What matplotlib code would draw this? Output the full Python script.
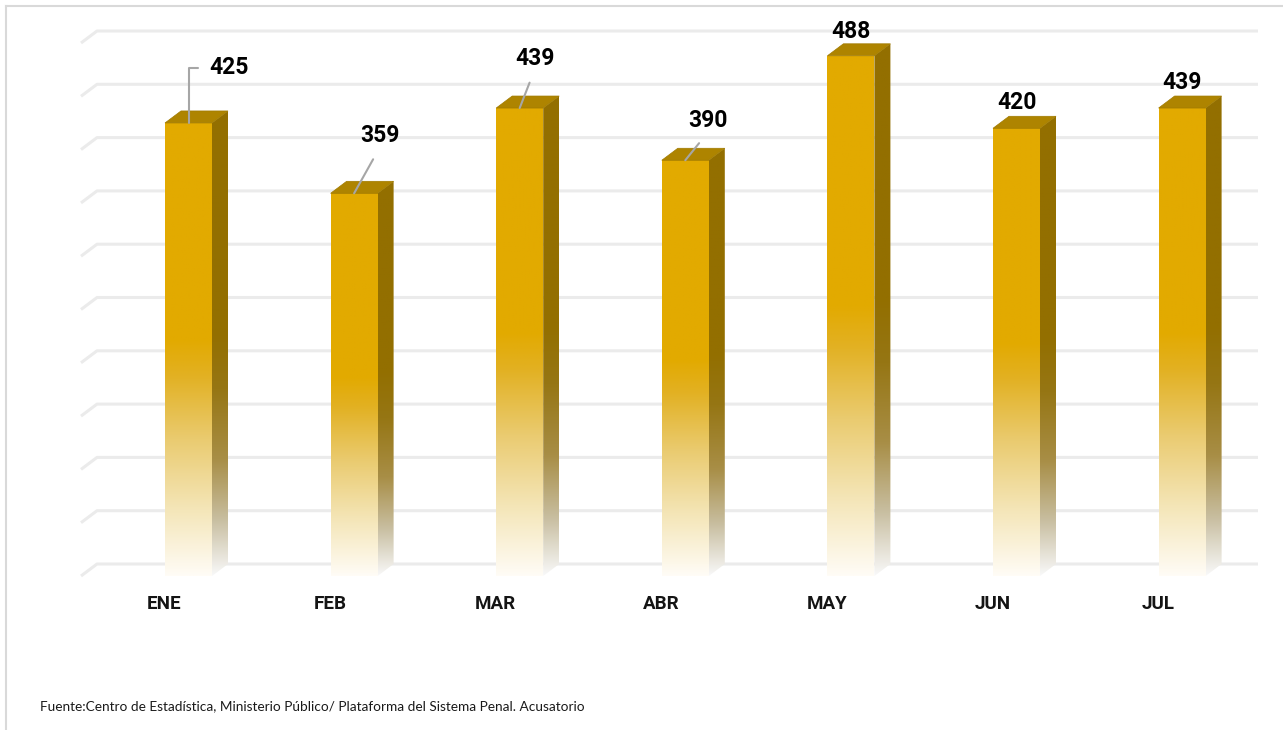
import matplotlib
matplotlib.use('Agg')
import matplotlib.pyplot as plt
from matplotlib.patches import Polygon, Rectangle
from matplotlib.lines import Line2D
import numpy as np

# data
meses = ['ENE', 'FEB', 'MAR', 'ABR', 'MAY', 'JUN', 'JUL']
valores = [425, 359, 439, 390, 488, 420, 439]
ticks_y = np.arange(0, 501, 50)
fuente = 'Fuente:Centro de Estadística, Ministerio Público/ Plataforma del Sistema Penal. Acusatorio'

# label offsets in pixels (dx, dy) from top-front centre of each bar, and leader style
lab_off = [(21, 55), (26, 58), (15, 50), (23, 40), (0, 24), (0, 26), (0, 26)]
leader = ['elbow', 'line', 'line', 'line', None, None, None]

FONT = 'Roboto'

W, H = 1283, 730
fig = plt.figure(figsize=(W / 100, H / 100), dpi=100)
ax = fig.add_axes([0, 0, 1, 1])
ax.axis('off')

# pixel geometry of the front plane
x_px0, x_step = 188.5, 165.6      # centre of first bar, spacing
y_px0, y_scale = 154.0, 1.066     # value 0 (from bottom), px per unit
xlim = (-x_px0 / x_step, (W - x_px0) / x_step)
ylim = (-y_px0 / y_scale, (H - y_px0) / y_scale)

dx = 16 / x_step      # depth offset
dy = 12 / y_scale
bw = 47 / x_step      # bar width

# gridlines (back wall + small side-wall stub)
gx0 = (81 - x_px0) / x_step
gx1 = (1258 - x_px0) / x_step
for v in ticks_y:
    ax.plot([gx0, gx0 + dx, gx1], [v, v + dy, v + dy], color='#ebebeb', lw=2.2,
            solid_capstyle='butt', zorder=1)


def grad(stops, n=256):
    t = np.linspace(0, 1, n)
    pos = [s[0] for s in stops]
    cols = np.array([s[1] for s in stops], dtype=float) / 255
    out = np.zeros((n, 1, 3))
    for c in range(3):
        out[:, 0, c] = np.interp(t, pos, cols[:, c])
    return out


front_stops = [(0, (226, 170, 0)), (0.48, (226, 170, 0)), (0.56, (226, 177, 35)),
               (0.7, (234, 203, 112)), (0.85, (244, 229, 182)), (1.0, (255, 252, 246))]
side_stops = [(0, (147, 111, 0)), (0.48, (147, 111, 0)), (0.6, (150, 118, 20)),
              (0.75, (168, 142, 70)), (0.88, (200, 190, 160)), (1.0, (248, 248, 248))]
g_front = grad(front_stops)
g_side = grad(side_stops)

for i, v in enumerate(valores):
    xl, xr = i - bw / 2, i + bw / 2
    # front face
    rect = Rectangle((xl, 0), bw, v, transform=ax.transData, facecolor='none', edgecolor='none')
    ax.add_patch(rect)
    im = ax.imshow(g_front, extent=(xl, xr, 0, v), origin='upper', aspect='auto',
                   interpolation='bilinear', zorder=3)
    im.set_clip_path(rect)
    # side face
    side = Polygon([(xr, 0), (xr + dx, dy), (xr + dx, v + dy), (xr, v)], closed=True,
                   facecolor='none', edgecolor='none')
    ax.add_patch(side)
    im2 = ax.imshow(g_side, extent=(xr, xr + dx, 0, v + dy), origin='upper', aspect='auto',
                    interpolation='bilinear', zorder=3)
    im2.set_clip_path(side)
    # top face
    top = Polygon([(xl, v), (xl + dx, v + dy), (xr + dx, v + dy), (xr, v)], closed=True,
                  facecolor='#ae8400', edgecolor='#a07a00', lw=0.5, zorder=4)
    ax.add_patch(top)

    # value label
    ox, oy = lab_off[i]
    kw = dict(xy=(i, v), xytext=(ox, oy), textcoords='offset pixels', va='center',
              fontsize=16.5, fontweight='bold', family=FONT, color='black', zorder=6)
    if leader[i] == 'elbow':
        ax.annotate(str(v), ha='left',
                    arrowprops=dict(arrowstyle='-', color='#a6a6a6', lw=1.5, relpos=(0, 0.5),
                                    connectionstyle='angle,angleA=0,angleB=90,rad=0',
                                    shrinkA=6, shrinkB=0), **kw)
    elif leader[i] == 'line':
        ax.annotate(str(v), ha='center',
                    arrowprops=dict(arrowstyle='-', color='#a6a6a6', lw=1.5, relpos=(0.5, 0),
                                    shrinkA=8, shrinkB=0), **kw)
    else:
        ax.annotate(str(v), ha='center', **kw)

    # category label
    ax.annotate(meses[i], xy=(i, 0), xytext=(-24, -28), textcoords='offset pixels',
                ha='center', va='center', fontsize=13.5, fontweight='bold', family=FONT,
                color='#141414')

ax.set_xlim(*xlim)
ax.set_ylim(*ylim)

fig.text(40 / W, 1 - 706 / H, fuente, fontsize=9.8, family='Lato', color='#1a1a1a',
         ha='left', va='center')

# chart-area border (left and top visible)
fig.add_artist(Line2D([6 / W, 6 / W], [0, 1 - 6 / H], transform=fig.transFigure,
                      color='#d9d9d9', lw=1.5))
fig.add_artist(Line2D([6 / W, 1], [1 - 6 / H, 1 - 6 / H], transform=fig.transFigure,
                      color='#d9d9d9', lw=1.5))

fig.savefig('out.png', dpi=100, facecolor='white')
